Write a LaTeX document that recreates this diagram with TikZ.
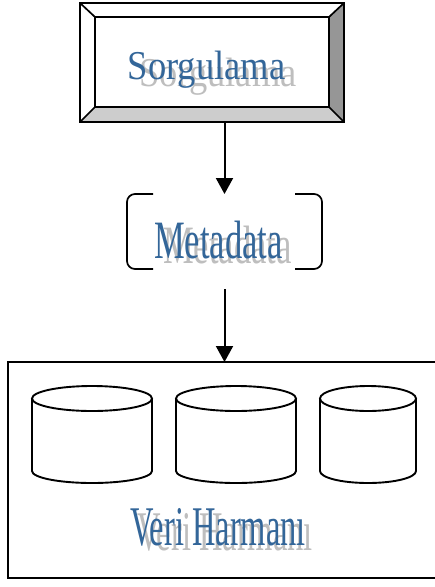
\documentclass[tikz,border=0pt]{standalone}
\usepackage{fontspec}
\setmainfont{Liberation Serif}
\usepackage{graphicx}
\usetikzlibrary{arrows.meta}
\definecolor{wablue}{RGB}{51,102,153}
\definecolor{washadow}{RGB}{190,190,190}
\definecolor{bevdark}{RGB}{150,150,150}
\definecolor{bevlight}{RGB}{205,205,205}
\begin{document}
\begin{tikzpicture}[x=1pt,y=-1pt,
  line/.style={line width=1.9pt,line join=miter},
  thin line/.style={line width=1.7pt},
  conn/.style={line width=2pt,-{Triangle[width=17pt,length=16pt]}},
  frame/.style={inner sep=0pt,outer sep=0pt},
  wordart/.style={inner sep=0pt,anchor=base,text=wablue},
  wordshadow/.style={inner sep=0pt,anchor=base,text=washadow}]
\useasboundingbox (0,0) rectangle (435,587);
\clip (0,0) rectangle (435,587);
\fill[white] (0,0) rectangle (435,587);

% ---- Sorgulama bevel box
\node[frame,minimum width=264pt,minimum height=119pt] (sorg) at (212,62.5) {};
\coordinate (s1) at ([shift={(15,14)}]sorg.north west);
\coordinate (s2) at ([shift={(-15,14)}]sorg.north east);
\coordinate (s3) at ([shift={(-15,-15)}]sorg.south east);
\coordinate (s4) at ([shift={(15,-15)}]sorg.south west);
\fill[bevdark] (sorg.north east) -- (sorg.south east) -- (s3) -- (s2) -- cycle;
\fill[bevlight] (sorg.south west) -- (sorg.south east) -- (s3) -- (s4) -- cycle;
\draw[thin line] (sorg.north west) -- (s1) (sorg.north east) -- (s2)
  (sorg.south east) -- (s3) (sorg.south west) -- (s4);
\draw[thin line] (s1) rectangle (s3);
\draw[line] (sorg.north west) rectangle (sorg.south east);
\node[wordshadow,font=\fontsize{41}{41}\selectfont] (sorgsh) at (218,86) {\scalebox{0.89}[1]{Sorgulama}};
\node[wordart,font=\fontsize{41}{41}\selectfont] (sorgtx) at (206.5,79) {\scalebox{0.89}[1]{Sorgulama}};

% ---- Metadata brackets
\node[frame,minimum width=195pt,minimum height=75pt] (meta) at (224.5,231.5) {};
\draw[thin line,rounded corners=8pt] ([xshift=26]meta.north west) -- (meta.north west)
  -- (meta.south west) -- ([xshift=26]meta.south west);
\draw[thin line,rounded corners=8pt] ([xshift=-27]meta.north east) -- (meta.north east)
  -- (meta.south east) -- ([xshift=-27]meta.south east);
\node[wordshadow,font=\fontsize{54}{54}\selectfont] (metash) at (227.5,263) {\scalebox{0.64}[1]{Metadata}};
\node[wordart,font=\fontsize{54}{54}\selectfont] (metatx) at (218.5,258) {\scalebox{0.64}[1]{Metadata}};

% ---- Veri Harmani box
\node[frame,minimum width=437pt,minimum height=216pt] (lake) at (226.5,470) {};
\draw[line] (lake.north west) rectangle (lake.south east);
\foreach \xa/\xb in {32/152,176/296,320/416}{
  \pgfmathsetmacro{\rx}{(\xb-\xa)/2}
  \pgfmathsetmacro{\cx}{(\xa+\xb)/2}
  \draw[line,fill=white] (\xa,398.5) -- (\xa,471)
    arc[start angle=180,end angle=0,x radius=\rx,y radius=12] -- (\xb,398.5);
  \draw[line] (\cx,398.5) ellipse[x radius=\rx,y radius=12.5];
}
\node[wordshadow,font=\fontsize{56}{56}\selectfont] (lakesh) at (225,550) {\scalebox{0.58}[1]{Veri Harmanı}};
\node[wordart,font=\fontsize{56}{56}\selectfont] (laketx) at (218,545) {\scalebox{0.58}[1]{Veri Harmanı}};

% ---- connectors
\draw[conn] (meta.north |- sorg.south) -- (meta.north);
\coordinate (a2) at (224.5,289);
\draw[conn] (a2) -- (a2 |- lake.north);
\end{tikzpicture}
\end{document}
